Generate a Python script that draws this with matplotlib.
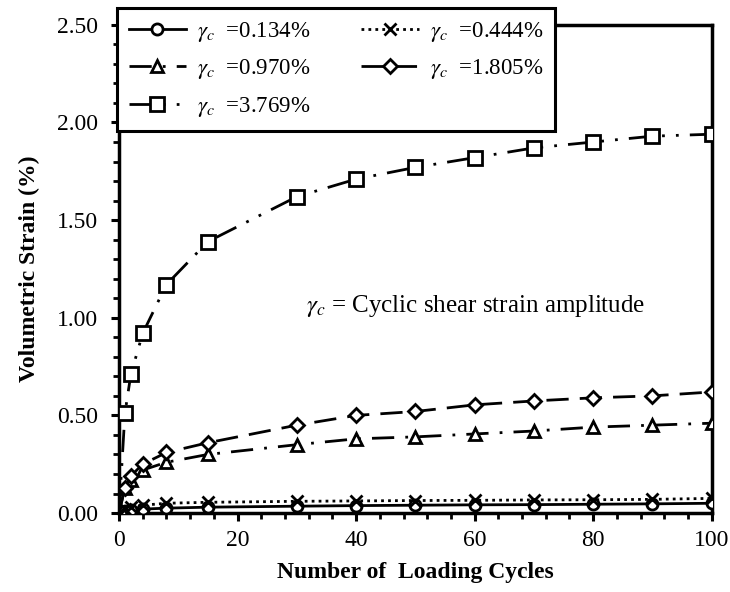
import matplotlib
matplotlib.use("Agg")
import matplotlib.pyplot as plt
from matplotlib.ticker import MultipleLocator, FormatStrFormatter

plt.rcParams["font.family"] = ["Liberation Serif", "DejaVu Serif"]
plt.rcParams["mathtext.fontset"] = "stix"

# Loading cycles at which the volumetric strain was recorded
cycles = [0, 1, 2, 4, 8, 15, 30, 40, 50, 60, 70, 80, 90, 100]

# Volumetric strain (%) for each cyclic shear strain amplitude
strain_0134 = [0.0, 0.01, 0.015, 0.02, 0.025, 0.03, 0.035, 0.038, 0.040, 0.042, 0.043, 0.045, 0.047, 0.050]
strain_0444 = [0.0, 0.02, 0.03, 0.04, 0.05, 0.055, 0.060, 0.062, 0.064, 0.065, 0.067, 0.068, 0.070, 0.075]
strain_0970 = [0.0, 0.13, 0.17, 0.22, 0.26, 0.30, 0.35, 0.38, 0.39, 0.405, 0.42, 0.44, 0.45, 0.46]
strain_1805 = [0.0, 0.13, 0.19, 0.25, 0.31, 0.36, 0.45, 0.50, 0.52, 0.554, 0.574, 0.59, 0.60, 0.62]
strain_3769 = [0.0, 0.51, 0.71, 0.92, 1.17, 1.39, 1.62, 1.71, 1.77, 1.82, 1.87, 1.90, 1.93, 1.94]

labels = ["0.134", "0.444", "0.970", "1.805", "3.769"]


def amp_label(v):
    return r"$\gamma_c$  =" + v + "%"


fig = plt.figure(figsize=(7.30, 5.92), dpi=100)
ax = fig.add_axes([0.163, 0.1334, 0.812, 0.8246])

common = dict(color="black", markerfacecolor="white", markeredgecolor="black",
              markeredgewidth=2.0, linewidth=2.0)

h1, = ax.plot(cycles, strain_0134, marker="o", markersize=8, linestyle="-",
              label=amp_label(labels[0]), zorder=5, **common)
h2, = ax.plot(cycles, strain_0444, marker="x", markersize=8, linestyle=(0, (1, 1.5)),
              label=amp_label(labels[1]), zorder=6, **common)
h3, = ax.plot(cycles, strain_0970, marker="^", markersize=9, linestyle=(0, (8, 4, 1, 4)),
              label=amp_label(labels[2]), zorder=4, **common)
h4, = ax.plot(cycles, strain_1805, marker="D", markersize=7.5, linestyle=(0, (8, 4)),
              label=amp_label(labels[3]), zorder=4, **common)
h5, = ax.plot(cycles, strain_3769, marker="s", markersize=10, linestyle=(0, (8, 4, 1, 4, 1, 4)),
              label=amp_label(labels[4]), zorder=4, **common)

ax.set_xlim(0, 100)
ax.set_ylim(0, 2.5)
ax.xaxis.set_major_locator(MultipleLocator(20))
ax.xaxis.set_minor_locator(MultipleLocator(4))
ax.yaxis.set_major_locator(MultipleLocator(0.5))
ax.yaxis.set_minor_locator(MultipleLocator(0.1))
ax.yaxis.set_major_formatter(FormatStrFormatter("%.2f"))

for s in ax.spines.values():
    s.set_linewidth(2.5)
ax.tick_params(which="major", direction="out", length=6, width=2.2, labelsize=17)
ax.tick_params(axis="y", which="major", pad=9)
ax.tick_params(axis="x", which="major", pad=6)
ax.tick_params(which="minor", direction="out", length=4, width=2.0)

ax.set_xlabel("Number of  Loading Cycles", fontsize=17, fontweight="bold", labelpad=8)
ax.set_ylabel("Volumetric Strain (%)", fontsize=17, fontweight="bold", labelpad=12)

ax.text(31.5, 1.06, r"$\gamma_c$ = Cyclic shear strain amplitude", fontsize=18,
        ha="left", va="center")

order = [h1, h3, h5, h2, h4]
leg = ax.legend(order, [h.get_label() for h in order],
                ncol=2, loc="upper left", bbox_to_anchor=(-0.003, 1.034),
                fontsize=16.5, frameon=True, fancybox=False, edgecolor="black",
                framealpha=1.0, borderaxespad=0.0, handlelength=2.5,
                columnspacing=2.2, labelspacing=0.6, handletextpad=0.5,
                borderpad=0.5)
leg.get_frame().set_linewidth(2.2)
leg.set_zorder(10)

fig.savefig("out.png", dpi=100)
